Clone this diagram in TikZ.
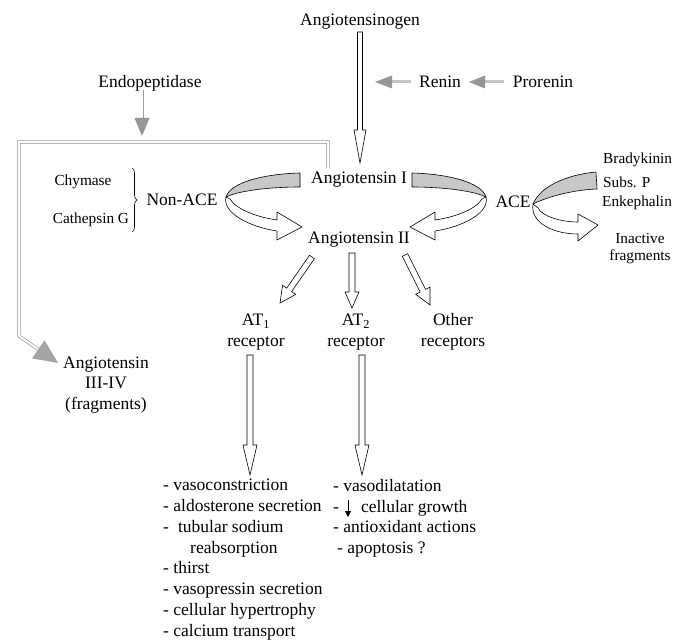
\documentclass[tikz,border=0pt]{standalone}
\usepackage{fontspec}
\setmainfont{Liberation Serif}
\usetikzlibrary{calc,arrows.meta,decorations.pathreplacing}
\definecolor{ribbon}{RGB}{200,200,200}
\definecolor{ghead}{RGB}{150,150,150}
\definecolor{gshaft}{RGB}{195,195,195}
\definecolor{dline}{RGB}{140,140,140}
\definecolor{bighead}{RGB}{165,165,165}
\newcommand{\mainsz}{\fontsize{17.5}{20.8}\selectfont}
\newcommand{\smallsz}{\fontsize{15.3}{17}\selectfont}
% hollow arrow: start, end, shaft half width, head half width, head length
\newcommand{\hollowarr}[5]{%
  \path ($(#2)!#5!(#1)$) coordinate (hb);
  \draw[hollow] ($(#1)!#3!90:(#2)$) -- ($(hb)!#3!-90:(#1)$) -- ($(hb)!#4!-90:(#1)$)
    -- (#2) -- ($(hb)!#4!90:(#1)$) -- ($(hb)!#3!90:(#1)$) -- ($(#1)!#3!-90:(#2)$) -- cycle;}
% grey arrow: start, end, head half width, head length, shaft style
\newcommand{\greyarr}[5]{%
  \path ($(#2)!#4!(#1)$) coordinate (gb);
  \draw[#5] (#1) -- (gb);
  \fill[ghead] ($(gb)!#3!90:(#2)$) -- (#2) -- ($(gb)!#3!-90:(#2)$) -- cycle;}
\begin{document}
\begin{tikzpicture}[x=1pt,y=-1pt,
  every node/.style={inner sep=0pt, font=\mainsz},
  small/.style={font=\smallsz},
  hollow/.style={draw=black, fill=white, line width=0.6pt, line join=miter},
  gshaftline/.style={draw=gshaft, line width=3pt},
  gshaftdbl/.style={draw=gshaft!80!black, line width=0.7pt, double=white, double distance=1.6pt},
  dbl/.style={draw=dline, line width=0.6pt, double=white, double distance=2pt},
  rib/.style={draw=black, line width=0.6pt, line join=round},
  ]
\useasboundingbox (0,0) rectangle (674,644);

% ---- nodes
\node (ango) at (360,22) {Angiotensinogen};
\node (renin) at (440,82) {Renin};
\node (prorenin) at (543,82) {Prorenin};
\node (endo) at (150,83) {Endopeptidase};
\node (ang1) at (359,180) {Angiotensin I};
\node (ang2) at (359,240) {Angiotensin II};
\node (nonace) at (182,200) {Non-ACE};
\node[small] (chym) at (83,182) {Chymase};
\node[small] (cath) at (91,220) {Cathepsin G};
\node (ace) at (513,202) {ACE};
\node[small, anchor=west] (brady) at (603,160) {Bradykinin};
\node[small, anchor=west] (subs) at (603,182) {Subs. P};
\node[small, anchor=west] (enk) at (602,203) {Enkephalin};
\node[small, align=center] (inact) at (640,249) {Inactive\\fragments};
\node[align=center] (at1) at (256,332) {AT\textsubscript{1}\\receptor};
\node[align=center] (at2) at (356,332) {AT\textsubscript{2}\\receptor};
\node[align=center] (other) at (453,332) {Other\\receptors};
\node[align=center] (ang3) at (106,385) {Angiotensin\\III-IV\\(fragments)};
\node[align=left, anchor=north west] (eff1) at (163,479) {- vasoconstriction\\- aldosterone secretion\\-\hspace{9pt}tubular sodium\\\hspace*{27pt}reabsorption\\- thirst\\- vasopressin secretion\\- cellular hypertrophy\\- calcium transport};
\node[align=left, anchor=north west] (eff2) at (333,479) {- vasodilatation\\-\hspace{22pt}cellular growth\\- antioxidant actions\\\hspace*{4pt}- apoptosis ?};

% ---- brace
\draw[line width=0.6pt, decorate, decoration={brace, amplitude=5pt}] (132,168) -- (132,232);

% ---- grey arrows
\coordinate (pr1) at (504,82); \coordinate (pr2) at (469,82);
\greyarr{pr1}{pr2}{6.5pt}{16pt}{gshaftline}
\coordinate (re1) at (411,82); \coordinate (re2) at (375,82);
\greyarr{re1}{re2}{6.5pt}{17pt}{gshaftline}
\coordinate (en1) at (142,90); \coordinate (en2) at (142,136);
\greyarr{en1}{en2}{7.5pt}{18pt}{gshaftdbl}

% ---- double line to Angiotensin III-IV
\coordinate (dstart) at (328,168);
\coordinate (bend) at (19,336);
\coordinate (tip3) at (58,363);
\path ($(tip3)!24pt!(bend)$) coordinate (hb3);
\draw[dbl] (dstart) -- (328,142) -- (19,142) -- (bend) -- (hb3);
\fill[bighead] ($(hb3)!11pt!90:(tip3)$) -- (tip3) -- ($(hb3)!11pt!-90:(tip3)$) -- cycle;

% ---- hollow arrows
\coordinate (a0s) at (360,32); \coordinate (a0e) at (360,163);
\hollowarr{a0s}{a0e}{2.5pt}{6pt}{33pt}
\coordinate (b1s) at (312,257); \coordinate (b1e) at (280,303);
\hollowarr{b1s}{b1e}{3pt}{8pt}{16pt}
\coordinate (b2s) at (352,253); \coordinate (b2e) at (352,308);
\hollowarr{b2s}{b2e}{3pt}{7pt}{16pt}
\coordinate (b3s) at (405,255); \coordinate (b3e) at (430,305);
\hollowarr{b3s}{b3e}{3pt}{8pt}{16pt}
\coordinate (c1s) at (250,355); \coordinate (c1e) at (250,475);
\hollowarr{c1s}{c1e}{3pt}{7pt}{30pt}
\coordinate (c2s) at (362,355); \coordinate (c2e) at (362,475);
\hollowarr{c2s}{c2e}{3pt}{7pt}{30pt}

% ---- down arrow in effects list
\draw[line width=0.9pt, -{Triangle[length=6pt,width=6pt]}] (348,500) -- (348,517);

% ---- left ribbon (Non-ACE)
\begin{scope}
\draw[rib, fill=white] (226,197) .. controls (222,213) and (250,227) .. (277,231)
   -- (277,240) -- (302,227) -- (277,212) -- (277,220)
   .. controls (256,217) and (236,209) .. (230,199) -- cycle;
\draw[rib, fill=ribbon] (300,173) .. controls (262,174) and (230,183) .. (226,197)
   .. controls (238,191) and (268,187) .. (300,187) -- cycle;
\end{scope}
% ---- right ribbon (ACE), mirror image
\begin{scope}[xshift=712pt, xscale=-1]
\draw[rib, fill=white] (226,197) .. controls (222,213) and (250,227) .. (277,231)
   -- (277,240) -- (302,227) -- (277,212) -- (277,220)
   .. controls (256,217) and (236,209) .. (230,199) -- cycle;
\draw[rib, fill=ribbon] (300,173) .. controls (262,174) and (230,183) .. (226,197)
   .. controls (238,191) and (268,187) .. (300,187) -- cycle;
\end{scope}
% ---- small ribbon (Bradykinin -> Inactive fragments)
\draw[rib, fill=white] (533,204) .. controls (530,222) and (552,234) .. (578,234)
   -- (578,241) -- (598,225) -- (578,214) -- (578,222)
   .. controls (560,222) and (542,216) .. (538,208) -- cycle;
\draw[rib, fill=ribbon] (596,172) .. controls (565,175) and (540,187) .. (533,204)
   .. controls (545,198) and (570,190) .. (597,189) -- cycle;
\end{tikzpicture}
\end{document}
